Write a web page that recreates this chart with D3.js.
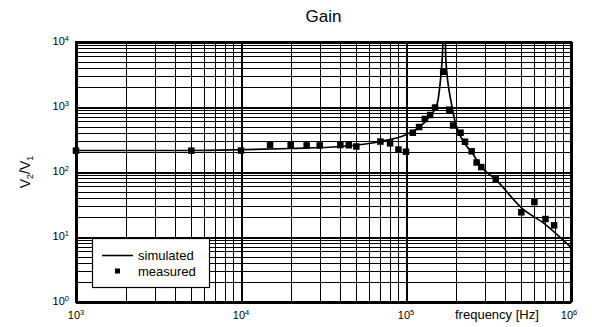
<!DOCTYPE html>
<html>
<head>
<meta charset="utf-8">
<script src="https://cdn.jsdelivr.net/npm/d3@7"></script>
<style>
  html, body { margin: 0; padding: 0; background: #fff; }
  svg { display: block; font-family: "Liberation Sans", Arial, sans-serif; }
</style>
</head>
<body>
<div id="chart"></div>
<script>
// measured gain points (frequency in Hz, V2/V1)
const measFreq = [1000, 5000, 10000, 15000, 20000, 25000, 30000, 40000, 45000, 50000,
  70000, 80000, 90000, 100000, 110000, 120000, 130000, 140000, 150000, 168000,
  183000, 193000, 214000, 228000, 250000, 268000, 286000, 350000, 500000, 600000,
  700000, 790000];
const measGain = [213, 213, 214, 263, 260, 257, 256, 260, 258, 247,
  294, 276, 222, 205, 402, 492, 654, 753, 982, 3490,
  909, 519, 402, 292, 208, 140, 119, 77, 24, 34.5,
  18.9, 15.1];

// simulated curve
const simFreq = [1000, 5000, 10000, 20000, 40000, 70000, 100000, 121000, 140000, 154000,
  160000, 167500, 169000, 173500, 174000, 189000, 198000, 222000, 250000, 285000,
  349000, 503000, 695000, 1000000];
const simGain = [214, 214, 220, 230, 247, 295, 375, 492, 727, 1085,
  2000, 10000, 20000, 10000, 5670, 1085, 603, 297, 203, 121,
  77, 27.9, 15.8, 6.9];

const xDecades = [1e3, 1e4, 1e5, 1e6];
const yDecades = [1, 10, 100, 1000, 10000];
const legendItems = ["simulated", "measured"];

const W = 592, H = 327;
const M = { top: 42, right: 21, bottom: 25, left: 76 };

const svg = d3.select("#chart").append("svg").attr("width", W).attr("height", H);

const x = d3.scaleLog().domain([1e3, 1e6]).range([M.left, W - M.right]);
const y = d3.scaleLog().domain([1, 1e4]).range([H - M.bottom, M.top]);

function minorTicks(decades) {
  const out = [];
  decades.slice(0, -1).forEach(d => { for (let k = 1; k < 10; k++) out.push(d * k); });
  out.push(decades[decades.length - 1]);
  return out;
}
const xGrid = minorTicks(xDecades), yGrid = minorTicks(yDecades);

// grid
const g = svg.append("g").attr("stroke", "#000").attr("fill", "none").attr("shape-rendering", "crispEdges");
g.selectAll(".vx").data(xGrid).join("line")
  .attr("x1", d => Math.round(x(d)) + 0.5).attr("x2", d => Math.round(x(d)) + 0.5)
  .attr("y1", y(1e4)).attr("y2", y(1))
  .attr("stroke-width", d => xDecades.includes(d) ? 2 : 1);
g.selectAll(".hy").data(yGrid).join("line")
  .attr("y1", d => Math.round(y(d)) + 0.5).attr("y2", d => Math.round(y(d)) + 0.5)
  .attr("x1", x(1e3)).attr("x2", x(1e6))
  .attr("stroke-width", d => yDecades.includes(d) ? 2 : 1);
g.append("rect").attr("x", x(1e3)).attr("y", y(1e4))
  .attr("width", x(1e6) - x(1e3)).attr("height", y(1) - y(1e4)).attr("stroke-width", 1.5);

// tick labels with superscripts
function expLabel(sel, v) {
  sel.append("tspan").text("10");
  sel.append("tspan").attr("font-size", 7.5).attr("dy", -4.5).text(Math.round(Math.log10(v)));
}
svg.append("g").selectAll("text").data(yDecades).join("text")
  .attr("x", M.left - 7).attr("y", d => y(d) + 3).attr("text-anchor", "end")
  .attr("font-size", 11).each(function (d) { expLabel(d3.select(this), d); });
svg.append("g").selectAll("text").data(xDecades).join("text")
  .attr("x", d => x(d) + (d === 1e6 ? -2 : 0)).attr("y", H - 8).attr("text-anchor", "middle")
  .attr("font-size", 11).each(function (d) { expLabel(d3.select(this), d); });

// clip for the resonance peak
svg.append("clipPath").attr("id", "plot").append("rect")
  .attr("x", x(1e3)).attr("y", y(1e4)).attr("width", x(1e6) - x(1e3)).attr("height", y(1) - y(1e4));

const line = d3.line().x(d => x(d[0])).y(d => y(d[1])).curve(d3.curveMonotoneX);
svg.append("path").datum(d3.zip(simFreq, simGain))
  .attr("clip-path", "url(#plot)")
  .attr("d", line).attr("fill", "none").attr("stroke", "#000").attr("stroke-width", 1.7);

const sq = 6.5;
svg.append("g").selectAll("rect").data(d3.zip(measFreq, measGain)).join("rect")
  .attr("x", d => x(d[0]) - sq / 2).attr("y", d => y(d[1]) - sq / 2)
  .attr("width", sq).attr("height", sq).attr("fill", "#000");

// legend
const lg = svg.append("g");
lg.append("rect").attr("x", 92.5).attr("y", 238.5).attr("width", 117).attr("height", 49)
  .attr("fill", "#fff").attr("stroke", "#000").attr("stroke-width", 1.2);
lg.append("line").attr("x1", 102).attr("x2", 133).attr("y1", 255.5).attr("y2", 255.5)
  .attr("stroke", "#000").attr("stroke-width", 1.6);
lg.append("rect").attr("x", 115).attr("y", 268.5).attr("width", 5).attr("height", 5).attr("fill", "#000");
lg.selectAll("text").data(legendItems).join("text")
  .attr("x", 138).attr("y", (d, i) => 260 + i * 15.5).attr("font-size", 13).text(d => d);

// titles
svg.append("text").attr("x", (x(1e3) + x(1e6)) / 2).attr("y", 22).attr("text-anchor", "middle")
  .attr("font-size", 17).text("Gain");
svg.append("text").attr("x", 455).attr("y", 319).attr("font-size", 13).text("frequency [Hz]");

const yl = svg.append("text").attr("transform", `translate(30,${(y(1) + y(1e4)) / 2}) rotate(-90)`)
  .attr("text-anchor", "middle").attr("font-size", 14);
yl.append("tspan").text("V");
yl.append("tspan").attr("font-size", 9).attr("dy", 3).text("2");
yl.append("tspan").attr("dy", -3).text("/V");
yl.append("tspan").attr("font-size", 9).attr("dy", 3).text("1");
</script>
</body>
</html>
